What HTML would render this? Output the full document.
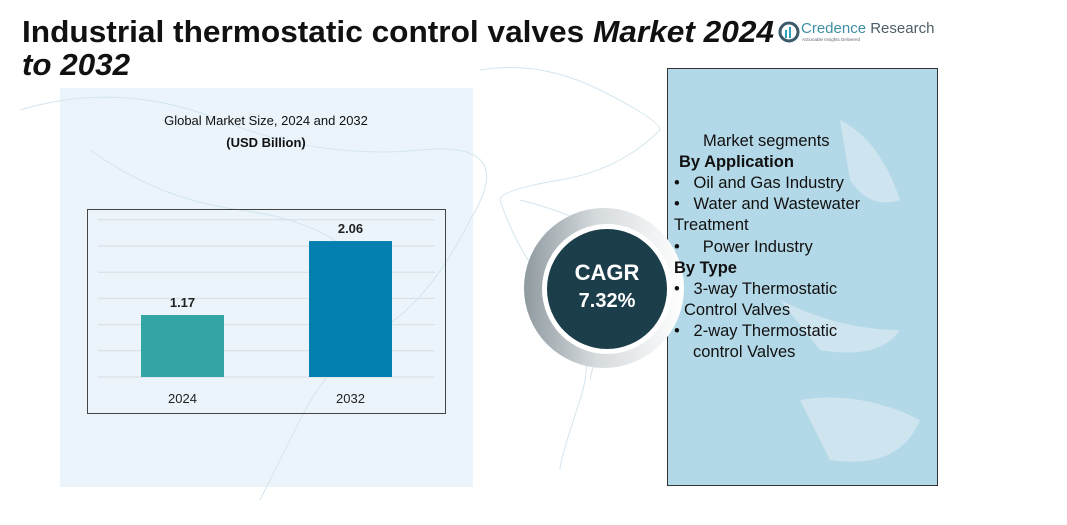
<!DOCTYPE html>
<html><head><meta charset="utf-8"><style>
body{margin:0;background:#fff;}
#root{position:relative;width:1067px;height:525px;overflow:hidden;background:#fff;font-family:"Liberation Sans",sans-serif;}
.seg{position:absolute;font-size:16.5px;color:#111;white-space:nowrap;line-height:21px;}
</style></head><body>
<div id="root">
<svg width="1067" height="525" style="position:absolute;left:0;top:0">
  <defs>
    <linearGradient id="ringGrad" x1="0" x2="1" y1="0" y2="0">
      <stop offset="0" stop-color="#8f9aa0"/><stop offset="0.45" stop-color="#d5dadd"/><stop offset="1" stop-color="#ffffff"/>
    </linearGradient>
  </defs>
  <rect x="60" y="88" width="413" height="399" fill="#ebf4fa"/>
  <g fill="none" stroke="#d3e5ef" stroke-width="1">
    <path d="M20 110 Q120 80 220 120 T420 150 T470 220 Q430 300 380 330 T300 420 T260 500"/>
    <path d="M480 70 Q540 60 600 90 T660 130 Q620 170 560 180 T500 200 Q520 260 560 300 T580 400 T560 470"/>
    <path d="M520 200 Q600 220 640 260 Q600 330 590 380"/>
    <path d="M90 150 Q160 200 240 210 T360 260"/>
  </g>
  <rect x="667.5" y="68.5" width="270" height="417" fill="#b3d8e7" stroke="#333" stroke-width="1"/>
  <g fill="#d4e9f1" opacity="0.8">
    <path d="M840 120 Q880 140 900 200 Q870 210 850 180 Z"/>
    <path d="M780 300 Q840 330 900 330 Q880 360 820 350 Z"/>
    <path d="M800 400 Q860 390 920 420 Q900 470 830 460 Z"/>
  </g>
  <circle cx="604" cy="288" r="80" fill="url(#ringGrad)"/>
  <circle cx="607" cy="289" r="65" fill="#ffffff"/>
  <circle cx="607" cy="289" r="60" fill="#1c3e4b"/>
  <text x="607" y="280" text-anchor="middle" font-family="Liberation Sans" font-weight="bold" font-size="22" fill="#fff">CAGR</text>
  <text x="607" y="307" text-anchor="middle" font-family="Liberation Sans" font-weight="bold" font-size="20" fill="#fff">7.32%</text>
  <text x="22" y="42" textLength="752" lengthAdjust="spacingAndGlyphs" font-family="Liberation Sans" font-weight="bold" font-size="31" fill="#111">Industrial thermostatic control valves <tspan font-style="italic">Market 2024</tspan></text>
  <text x="22" y="75" textLength="108" lengthAdjust="spacingAndGlyphs" font-family="Liberation Sans" font-weight="bold" font-style="italic" font-size="31" fill="#111">to 2032</text>
  <g>
    <circle cx="789" cy="32" r="9" fill="none" stroke="#3b5a6a" stroke-width="3"/>
    <rect x="785" y="30" width="2" height="8" fill="#2aa3b8"/><rect x="789" y="27" width="2" height="11" fill="#2aa3b8"/>
    <text x="801" y="33" font-family="Liberation Sans" font-size="15" fill="#3f8fa5">Credence <tspan fill="#4d5e68">Research</tspan></text>
    <text x="802" y="41" font-family="Liberation Sans" font-size="4.5" fill="#667">Actionable Insights Delivered</text>
  </g>
  <text x="266" y="125" text-anchor="middle" font-family="Liberation Sans" font-size="13" fill="#111">Global Market Size, 2024 and 2032</text>
  <text x="266" y="147" text-anchor="middle" font-family="Liberation Sans" font-weight="bold" font-size="13" fill="#111">(USD Billion)</text>
  <rect x="87.5" y="209.5" width="358" height="204" fill="none" stroke="#444" stroke-width="1"/>
  <g id="chart"></g>
</svg>
<div class="seg" style="left:703px;top:131px">Market segments</div>
<div class="seg" style="left:679px;top:152px;font-weight:bold">By Application</div>
<div class="seg" style="left:674px;top:173px">•&nbsp;&nbsp; Oil and Gas Industry</div>
<div class="seg" style="left:674px;top:194px">•&nbsp;&nbsp; Water and Wastewater</div>
<div class="seg" style="left:674px;top:215px">Treatment</div>
<div class="seg" style="left:674px;top:237px">•&nbsp;&nbsp;&nbsp;&nbsp; Power Industry</div>
<div class="seg" style="left:674px;top:258px;font-weight:bold">By Type</div>
<div class="seg" style="left:674px;top:279px">•&nbsp;&nbsp; 3-way Thermostatic</div>
<div class="seg" style="left:684px;top:300px">Control Valves</div>
<div class="seg" style="left:674px;top:321px">•&nbsp;&nbsp; 2-way Thermostatic</div>
<div class="seg" style="left:693px;top:342px">control Valves</div>
</div>
<script>
const categories = ["2024", "2032"];
const values = [1.17, 2.06];
const valueLabels = ["1.17", "2.06"];
const barColors = ["#33a5a5", "#0480b0"];
const NS = "http://www.w3.org/2000/svg";
const g = document.getElementById("chart");
const baseY = 377, yMin = 0.424, pxPerUnit = 83.1;
function yScale(v){ return baseY - (v - yMin) * pxPerUnit; }
function xCenter(i){ return 182.5 + i * 168; }
for (let k = 0; k < 7; k++) {
  const ln = document.createElementNS(NS, "line");
  const y = baseY - k * 26.2;
  ln.setAttribute("x1", 98); ln.setAttribute("x2", 435);
  ln.setAttribute("y1", y); ln.setAttribute("y2", y);
  ln.setAttribute("stroke", "#d8dde0"); ln.setAttribute("stroke-width", 1);
  
  
  g.appendChild(ln);
}
categories.forEach((c, i) => {
  const bw = 83, x = xCenter(i) - bw / 2, y = yScale(values[i]);
  const r = document.createElementNS(NS, "rect");
  r.setAttribute("x", x); r.setAttribute("y", y);
  r.setAttribute("width", bw); r.setAttribute("height", baseY - y);
  r.setAttribute("fill", barColors[i]);
  
  
  g.appendChild(r);
  const t = document.createElementNS(NS, "text");
  t.setAttribute("x", xCenter(i)); t.setAttribute("y", y - 8);
  t.setAttribute("text-anchor", "middle"); t.setAttribute("font-family", "Liberation Sans");
  t.setAttribute("font-weight", "bold"); t.setAttribute("font-size", "13"); t.setAttribute("fill", "#222");
  t.textContent = valueLabels[i];
  
  
  g.appendChild(t);
  const xl = document.createElementNS(NS, "text");
  xl.setAttribute("x", xCenter(i)); xl.setAttribute("y", 403);
  xl.setAttribute("text-anchor", "middle"); xl.setAttribute("font-family", "Liberation Sans");
  xl.setAttribute("font-size", "13"); xl.setAttribute("fill", "#222");
  xl.textContent = c;
  
  
  g.appendChild(xl);
});
</script>
</body></html>
